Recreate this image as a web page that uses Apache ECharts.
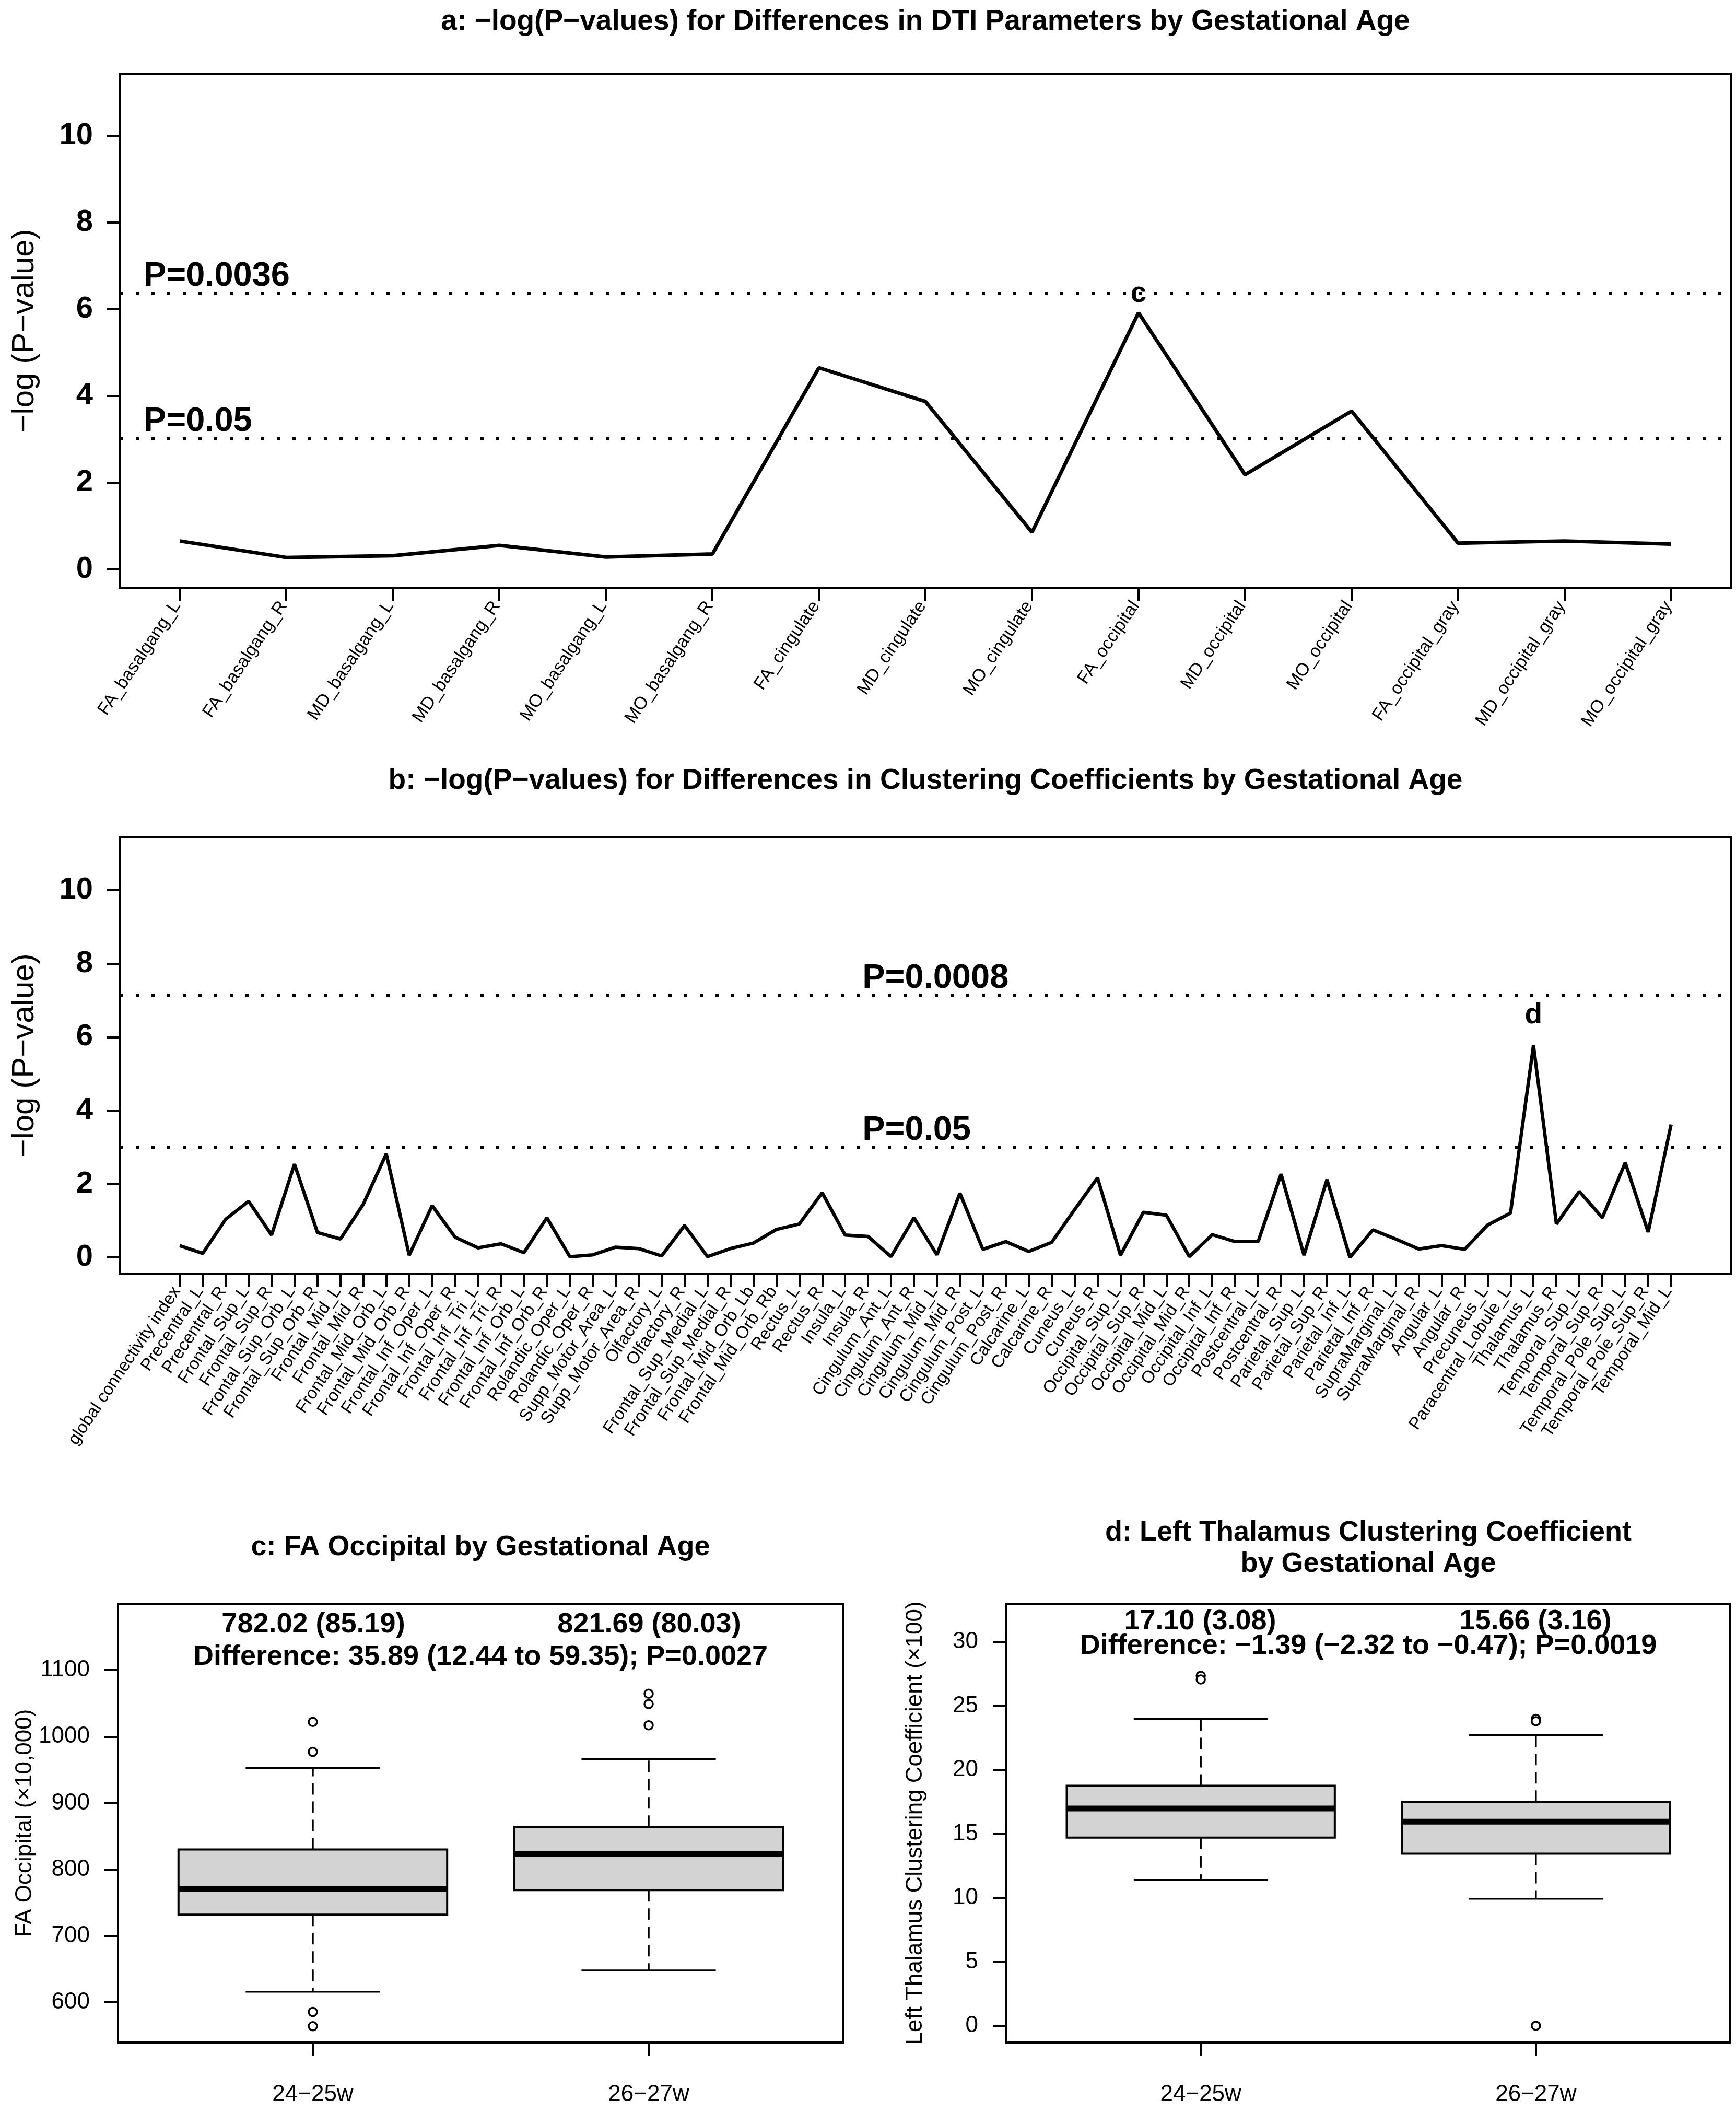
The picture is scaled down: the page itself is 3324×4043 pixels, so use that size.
<!DOCTYPE html>
<html><head><meta charset="utf-8">
<script src="https://cdn.jsdelivr.net/npm/echarts@6/dist/echarts.min.js"></script>
<style>html,body{margin:0;padding:0;background:#fff}#chart{width:3324px;height:4043px}</style>
</head><body><div id="chart"></div>
<script>
// ---------- data ----------
const dtiCategories = ['FA_basalgang_L','FA_basalgang_R','MD_basalgang_L','MD_basalgang_R','MO_basalgang_L','MO_basalgang_R',
  'FA_cingulate','MD_cingulate','MO_cingulate','FA_occipital','MD_occipital','MO_occipital',
  'FA_occipital_gray','MD_occipital_gray','MO_occipital_gray'];
const dtiValues = [0.65,0.27,0.31,0.55,0.28,0.35,4.65,3.87,0.85,5.92,2.18,3.65,0.60,0.65,0.58];
const dtiThresholds = [6.37, 3.01];
const dtiThresholdLabels = ['P=0.0036','P=0.05'];
const dtiMarkIndex = 9, dtiMarkText = 'c';

const clusterCategories = ['global connectivity index','Precentral_L','Precentral_R','Frontal_Sup_L','Frontal_Sup_R',
  'Frontal_Sup_Orb_L','Frontal_Sup_Orb_R','Frontal_Mid_L','Frontal_Mid_R','Frontal_Mid_Orb_L','Frontal_Mid_Orb_R',
  'Frontal_Inf_Oper_L','Frontal_Inf_Oper_R','Frontal_Inf_Tri_L','Frontal_Inf_Tri_R','Frontal_Inf_Orb_L','Frontal_Inf_Orb_R',
  'Rolandic_Oper_L','Rolandic_Oper_R','Supp_Motor_Area_L','Supp_Motor_Area_R','Olfactory_L','Olfactory_R',
  'Frontal_Sup_Medial_L','Frontal_Sup_Medial_R','Frontal_Mid_Orb_Lb','Frontal_Mid_Orb_Rb','Rectus_L','Rectus_R',
  'Insula_L','Insula_R','Cingulum_Ant_L','Cingulum_Ant_R','Cingulum_Mid_L','Cingulum_Mid_R','Cingulum_Post_L','Cingulum_Post_R',
  'Calcarine_L','Calcarine_R','Cuneus_L','Cuneus_R','Occipital_Sup_L','Occipital_Sup_R','Occipital_Mid_L','Occipital_Mid_R',
  'Occipital_Inf_L','Occipital_Inf_R','Postcentral_L','Postcentral_R','Parietal_Sup_L','Parietal_Sup_R','Parietal_Inf_L','Parietal_Inf_R',
  'SupraMarginal_L','SupraMarginal_R','Angular_L','Angular_R','Precuneus_L','Paracentral_Lobule_L','Thalamus_L','Thalamus_R',
  'Temporal_Sup_L','Temporal_Sup_R','Temporal_Pole_Sup_L','Temporal_Pole_Sup_R','Temporal_Mid_L'];
const clusterValues = [0.32,0.11,1.04,1.53,0.61,2.54,0.68,0.50,1.45,2.82,0.06,1.41,0.55,0.26,0.37,0.13,1.08,0.02,0.07,0.28,
  0.24,0.04,0.87,0.02,0.24,0.39,0.76,0.91,1.76,0.61,0.57,0.02,1.08,0.07,1.75,0.22,0.43,0.16,0.41,1.30,
  2.17,0.06,1.23,1.15,0.02,0.62,0.43,0.43,2.27,0.06,2.12,0.00,0.75,0.50,0.23,0.32,0.22,0.88,1.21,5.77,
  0.91,1.80,1.08,2.58,0.69,3.62];
const clusterThresholds = [7.13, 3.00];
const clusterThresholdLabels = ['P=0.0008','P=0.05'];
const clusterMarkIndex = 59, clusterMarkText = 'd';
const pTicks = [0,2,4,6,8,10];

const groupLabels = ['24\u221225w','26\u221227w'];
// [lower whisker, Q1, median, Q3, upper whisker]
const faBoxStats = [[616,732,771,830,953],[648,769,823,864,966]];
const faOutliers = [[1022,977,585.5,564],[1064.5,1049,1017]];
const faTicks = [600,700,800,900,1000,1100];
const faSummary = ['782.02 (85.19)','821.69 (80.03)'];
const faDifference = 'Difference: 35.89 (12.44 to 59.35); P=0.0027';

const thalBoxStats = [[11.4,14.7,16.98,18.75,23.98],[9.93,13.45,15.95,17.5,22.7]];
const thalOutliers = [[27.35,27.06],[23.98,23.8,0]];
const thalTicks = [0,5,10,15,20,25,30];
const thalSummary = ['17.10 (3.08)','15.66 (3.16)'];
const thalDifference = 'Difference: \u22121.39 (\u22122.32 to \u22120.47); P=0.0019';

// ---------- chart ----------
const FONT = "'Liberation Sans', Arial, Helvetica, sans-serif";
const chart = echarts.init(document.getElementById('chart'), null, {renderer:'canvas'});
const range = n => Array.from({length:n},(_,i)=>i+1);
const plain = v => String(v);

function gridCfg(left, top, width, height){
  return {left, top, width, height, show:true, borderColor:'#000', borderWidth:4, backgroundColor:'transparent', containLabel:false};
}
function xCat(gi, cats, pad, fs){
  return {type:'value', gridIndex:gi, min:1-pad, max:cats.length+pad,
    axisLine:{show:false, onZero:false}, splitLine:{show:false},
    axisTick:{show:true, customValues:range(cats.length), length:25, lineStyle:{color:'#000', width:4}},
    axisLabel:{show:true, customValues:range(cats.length), formatter:v=>cats[Math.round(v)-1]||'',
      rotate:56, fontSize:fs, color:'#000', fontFamily:FONT, margin:20, padding:[0,10,0,0]}};
}
function yP(gi){
  return {type:'value', gridIndex:gi, min:-0.44, max:11.44,
    axisLine:{show:false, onZero:false}, splitLine:{show:false},
    axisTick:{show:true, customValues:pTicks, length:25, lineStyle:{color:'#000', width:4}},
    axisLabel:{show:true, customValues:pTicks, formatter:plain, fontSize:58, fontWeight:'bold', color:'#000', fontFamily:FONT, margin:52},
    name:'\u2212log (P\u2212value)', nameLocation:'middle', nameGap:153,
    nameTextStyle:{fontSize:60, color:'#000', fontFamily:FONT}};
}
function xGroup(gi){
  return {type:'value', gridIndex:gi, min:0.42, max:2.58,
    axisLine:{show:false, onZero:false}, splitLine:{show:false},
    axisTick:{show:true, customValues:[1,2], length:25, lineStyle:{color:'#000', width:4}},
    axisLabel:{show:true, customValues:[1,2], formatter:v=>groupLabels[Math.round(v)-1]||'',
      fontSize:44, color:'#000', fontFamily:FONT, margin:78}};
}
function yBox(gi, min, max, ticks, name, gap){
  return {type:'value', gridIndex:gi, min, max,
    axisLine:{show:false, onZero:false}, splitLine:{show:false},
    axisTick:{show:true, customValues:ticks, length:26, lineStyle:{color:'#000', width:4}},
    axisLabel:{show:true, customValues:ticks, formatter:plain, fontSize:44, color:'#000', fontFamily:FONT, margin:54},
    name, nameLocation:'middle', nameGap:gap,
    nameTextStyle:{fontSize:44, color:'#000', fontFamily:FONT}};
}
function lineSeries(gi, values, thresholds, width){
  return {type:'line', xAxisIndex:gi, yAxisIndex:gi, data:values.map((v,i)=>[i+1,v]),
    symbol:'none', lineStyle:{color:'#000', width}, silent:true, animation:false,
    markLine:{symbol:'none', silent:true, animation:false, label:{show:false},
      lineStyle:{color:'#000', width:6, type:[6,24]},
      data:thresholds.map(t=>({yAxis:t}))}};
}
function thresholdLabelSeries(gi, x, thresholds, labels){
  return {type:'scatter', xAxisIndex:gi, yAxisIndex:gi, symbolSize:0, silent:true, animation:false,
    itemStyle:{opacity:1},
    data:thresholds.map((t,i)=>({value:[x,t], name:labels[i]})),
    label:{show:true, position:'top', align:'left', distance:0, formatter:p=>p.name,
      fontSize:65, fontWeight:'bold', color:'#000', opacity:1, fontFamily:FONT}};
}
function markSeries(gi, idx, values, text, dist){
  return {type:'scatter', xAxisIndex:gi, yAxisIndex:gi, symbolSize:0, silent:true, animation:false,
    itemStyle:{opacity:1},
    data:[{value:[idx+1, values[idx]], name:text}],
    label:{show:true, position:'top', distance:dist, formatter:p=>p.name,
      fontSize:55, fontWeight:'bold', color:'#000', opacity:1, fontFamily:FONT}};
}
function boxRender(params, api){
  const x = api.value(0);
  const pMin = api.coord([x, api.value(1)]), pQ1 = api.coord([x, api.value(2)]),
        pMd = api.coord([x, api.value(3)]), pQ3 = api.coord([x, api.value(4)]), pMax = api.coord([x, api.value(5)]);
  const w = api.size([0.8, 0])[0];
  const cx = pMd[0];
  const dash = {stroke:'#000', lineWidth:3.5, lineDash:[22,13]};
  const solid = {stroke:'#000', lineWidth:3.5};
  return {type:'group', children:[
    {type:'line', shape:{x1:cx, y1:pQ3[1], x2:cx, y2:pMax[1]}, style:dash},
    {type:'line', shape:{x1:cx, y1:pQ1[1], x2:cx, y2:pMin[1]}, style:dash},
    {type:'line', shape:{x1:cx-w/4, y1:pMax[1], x2:cx+w/4, y2:pMax[1]}, style:solid},
    {type:'line', shape:{x1:cx-w/4, y1:pMin[1], x2:cx+w/4, y2:pMin[1]}, style:solid},
    {type:'rect', shape:{x:cx-w/2, y:pQ3[1], width:w, height:pQ1[1]-pQ3[1]}, style:{fill:'#d3d3d3', stroke:'#000', lineWidth:4}},
    {type:'line', shape:{x1:cx-w/2, y1:pMd[1], x2:cx+w/2, y2:pMd[1]}, style:{stroke:'#000', lineWidth:11, lineCap:'butt'}}
  ]};
}
function boxSeries(gi, stats){
  return {type:'custom', xAxisIndex:gi, yAxisIndex:gi, renderItem:boxRender, silent:true, animation:false,
    dimensions:['x','min','q1','median','q3','max'], encode:{x:0, y:[1,2,3,4,5]},
    data:stats.map((s,i)=>[i+1].concat(s))};
}
function outlierSeries(gi, outs){
  return {type:'scatter', xAxisIndex:gi, yAxisIndex:gi, silent:true, animation:false,
    symbol:'circle', symbolSize:16,
    itemStyle:{color:'#fff', borderColor:'#000', borderWidth:3.5, opacity:1},
    data:outs.flatMap((arr,i)=>arr.map(v=>[i+1,v]))};
}
function txt(text, x, y, size, weight){
  return {type:'text', x, y, silent:true, style:{text, fill:'#000', font:`${weight||'bold'} ${size}px ${FONT}`, textAlign:'center', textVerticalAlign:'middle'}};
}

const option = {
  animation:false,
  backgroundColor:'#fff',
  grid:[gridCfg(230,141,3084,985), gridCfg(230,1603,3084,835), gridCfg(226,3070,1389,840), gridCfg(1927,3070,1386,840)],
  xAxis:[xCat(0, dtiCategories, 0.56, 34), xCat(1, clusterCategories, 2.6, 33), xGroup(2), xGroup(3)],
  yAxis:[yP(0), yP(1),
    yBox(2, 539.5, 1200, faTicks, 'FA Occipital (\u00d710,000)', 141),
    yBox(3, -1.31, 32.98, thalTicks, 'Left Thalamus Clustering Coefficient (\u00d7100)', 152)],
  series:[
    lineSeries(0, dtiValues, dtiThresholds, 7),
    thresholdLabelSeries(0, 0.66, dtiThresholds, dtiThresholdLabels),
    markSeries(0, dtiMarkIndex, dtiValues, dtiMarkText, 8),
    lineSeries(1, clusterValues, clusterThresholds, 6.5),
    thresholdLabelSeries(1, 30.75, clusterThresholds, clusterThresholdLabels),
    markSeries(1, clusterMarkIndex, clusterValues, clusterMarkText, 30),
    boxSeries(2, faBoxStats), outlierSeries(2, faOutliers),
    boxSeries(3, thalBoxStats), outlierSeries(3, thalOutliers)
  ],
  graphic:[
    txt('a: \u2212log(P\u2212values) for Differences in DTI Parameters by Gestational Age', 1772, 42, 55),
    txt('b: \u2212log(P\u2212values) for Differences in Clustering Coefficients by Gestational Age', 1772, 1495, 55),
    txt('c: FA Occipital by Gestational Age', 920, 2962, 54),
    txt('d: Left Thalamus Clustering Coefficient', 2620, 2934, 54),
    txt('by Gestational Age', 2620, 2994, 54),
    txt(faSummary[0], 600, 3110, 54), txt(faSummary[1], 1243, 3110, 54),
    txt(faDifference, 920, 3172, 54),
    txt(thalSummary[0], 2298, 3104, 54), txt(thalSummary[1], 2940, 3104, 54),
    txt(thalDifference, 2620, 3151, 54)
  ]
};
chart.setOption(option);
</script></body></html>
